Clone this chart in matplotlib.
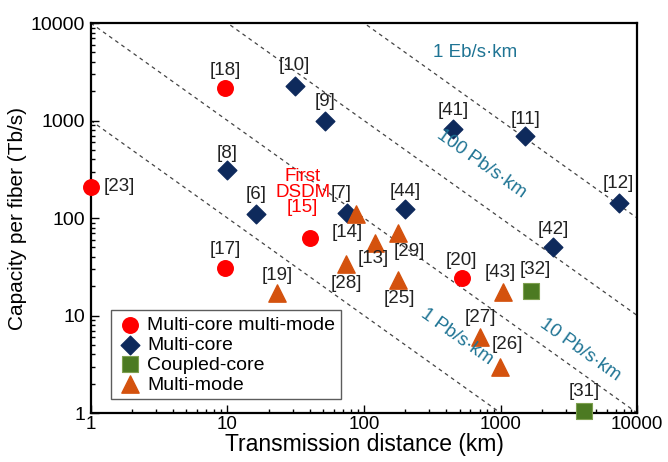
import matplotlib
matplotlib.use("Agg")
import matplotlib.pyplot as plt
import numpy as np

plt.rcParams['font.family'] = ['Liberation Sans', 'DejaVu Sans']

# multi-core multi-mode
mcmm_x = [1, 9.6, 9.6, 40, 520]
mcmm_y = [210, 2150, 31, 62, 24.5]
mcmm_lab = ['[23]', '[18]', '[17]', '', '[20]']

# multi-core
mc_x = [31, 52, 10, 16.2, 75, 200, 450, 1510, 7300, 2430]
mc_y = [2250, 1000, 310, 110, 113, 125, 820, 700, 142, 50]
mc_lab = ['[10]', '[9]', '[8]', '[6]', '[7]', '[44]', '[41]', '[11]', '[12]', '[42]']

# coupled-core
cc_x = [1680, 4100]
cc_y = [18, 1.05]
cc_lab = ['[32]', '[31]']

# multi-mode
mm_x = [88, 120, 177, 74, 177, 1040, 710, 990, 23]
mm_y = [110, 55, 70, 34, 23, 17.5, 6.0, 3.0, 17]
mm_lab = ['[14]', '[13]', '[29]', '[28]', '[25]', '[43]', '[27]', '[26]', '[19]']

# capacity-distance products in Tb/s*km
prod_vals = [1e3, 1e4, 1e5, 1e6]
prod_names = ['1 Pb/s·km', '10 Pb/s·km', '100 Pb/s·km', '1 Eb/s·km']

# label offsets (points) relative to marker
offs = {
    '[23]': (9, 0, 'left'), '[18]': (0, 13, 'center'), '[17]': (0, 13, 'center'),
    '[20]': (0, 12, 'center'), '[10]': (0, 15, 'center'), '[9]': (0, 14, 'center'),
    '[8]': (0, 12, 'center'), '[6]': (0, 14, 'center'), '[7]': (-4, 14, 'center'),
    '[44]': (0, 12, 'center'), '[41]': (0, 13, 'center'), '[11]': (0, 12, 'center'),
    '[12]': (0, 14, 'center'), '[42]': (0, 13, 'center'), '[32]': (3, 15, 'center'),
    '[31]': (0, 14, 'center'), '[14]': (-7, -13, 'center'), '[13]': (-1, -11, 'center'),
    '[29]': (8, -13, 'center'), '[28]': (0, -14, 'center'), '[25]': (1, -13, 'center'),
    '[43]': (-2, 14, 'center'), '[27]': (0, 14, 'center'), '[26]': (5, 16, 'center'),
    '[19]': (0, 13, 'center'),
}

fig = plt.figure(figsize=(6.68, 4.62), dpi=100)
ax = fig.add_axes([0.136, 0.106, 0.818, 0.844])
ax.set_xscale('log')
ax.set_yscale('log')
ax.set_xlim(1, 10000)
ax.set_ylim(1, 10000)

xx = np.logspace(0, 4, 200)
for p in prod_vals:
    ax.plot(xx, p / xx, ls=(0, (3, 3)), color='#444444', lw=0.9, zorder=1)

ax.scatter(mcmm_x, mcmm_y, marker='o', s=125, color='#FF0000', zorder=3,
           label='Multi-core multi-mode', clip_on=False)
ax.scatter(mc_x, mc_y, marker='D', s=90, color='#0E2A5C', zorder=3,
           label='Multi-core', clip_on=False)
ax.scatter(cc_x, cc_y, marker='s', s=120, color='#4C7A22', edgecolor='#7FA050',
           lw=0.8, zorder=3, label='Coupled-core', clip_on=False)
ax.scatter(mm_x, mm_y, marker='^', s=155, color='#D4520E', zorder=3,
           label='Multi-mode', clip_on=False)

for xs, ys, labs in [(mcmm_x, mcmm_y, mcmm_lab), (mc_x, mc_y, mc_lab),
                     (cc_x, cc_y, cc_lab), (mm_x, mm_y, mm_lab)]:
    for x, y, t in zip(xs, ys, labs):
        if not t:
            continue
        dx, dy, ha = offs[t]
        ax.annotate(t, (x, y), xytext=(dx, dy), textcoords='offset points',
                    ha=ha, va='center', fontsize=13.5, color='#222222', zorder=4)

ax.annotate('First\nDSDM\n[15]', (40, 62), xytext=(-5, 16), textcoords='offset points',
            ha='center', va='bottom', fontsize=13.5, color='#FF0000',
            linespacing=0.88, zorder=4)

teal = '#1F7494'
ax.text(650, 5000, prod_names[3], color=teal, fontsize=13.5, ha='center', va='center')
ang = -35.5
ax.text(720, 360, prod_names[2], color=teal, fontsize=13.5, ha='center', va='center',
        rotation=ang, rotation_mode='anchor')
ax.text(3800, 4.5, prod_names[1], color=teal, fontsize=13.5, ha='center', va='center',
        rotation=ang, rotation_mode='anchor')
ax.text(480, 6.0, prod_names[0], color=teal, fontsize=13.5, ha='center', va='center',
        rotation=ang, rotation_mode='anchor')

ax.set_xticks([1, 10, 100, 1000, 10000])
ax.set_xticklabels(['1', '10', '100', '1000', '10000'])
ax.set_yticks([1, 10, 100, 1000, 10000])
ax.set_yticklabels(['1', '10', '100', '1000', '10000'])
ax.tick_params(which='both', direction='in', top=False, right=False, labelsize=14,
               width=1.0)
ax.tick_params(which='major', length=6, pad=4)
ax.tick_params(axis='x', which='major', labelsize=13.5, pad=2)
ax.tick_params(which='minor', length=3)
for s in ax.spines.values():
    s.set_linewidth(1.6)

ax.set_xlabel('Transmission distance (km)', fontsize=16.5, labelpad=0)
ax.set_ylabel('Capacity per fiber (Tb/s)', fontsize=15, labelpad=3)

leg = ax.legend(loc='lower left', bbox_to_anchor=(0.036, 0.035), fontsize=14,
                frameon=True, fancybox=False, edgecolor='#333333',
                handletextpad=0.2, borderpad=0.3, labelspacing=0.12,
                handlelength=1.4, borderaxespad=0)
leg.get_frame().set_linewidth(1.0)

fig.savefig('out.png', dpi=100)
